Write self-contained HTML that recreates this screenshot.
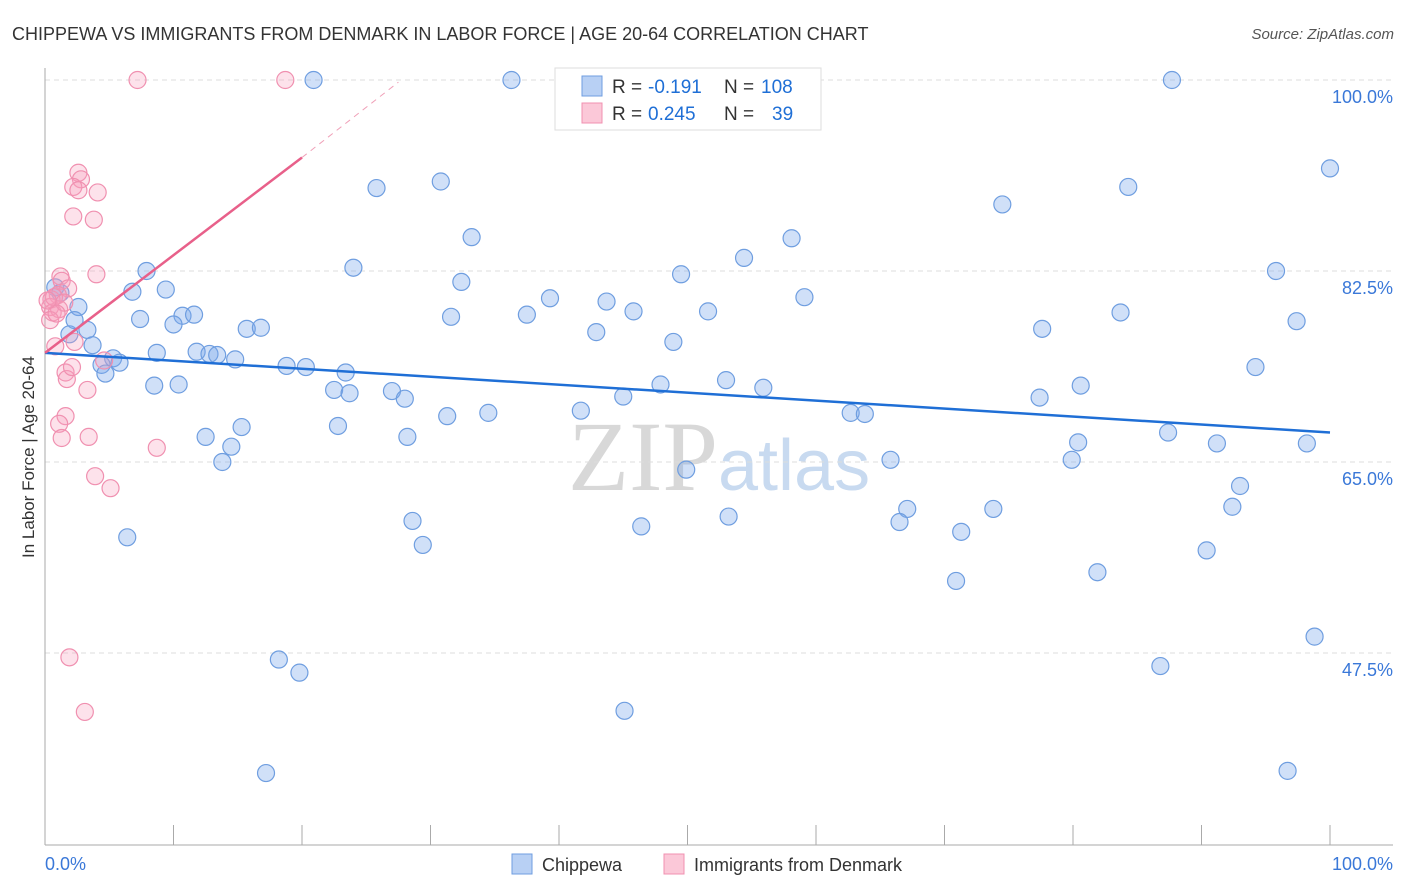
<!DOCTYPE html>
<html><head><meta charset="utf-8">
<style>
body{margin:0;background:#fff;font-family:"Liberation Sans",sans-serif;}
svg{display:block}
</style></head>
<body>
<svg id="chart" width="1406" height="892">
<text x="12" y="40" font-size="18" fill="#333">CHIPPEWA VS IMMIGRANTS FROM DENMARK IN LABOR FORCE | AGE 20-64 CORRELATION CHART</text>
<text x="1394" y="39" font-size="15" fill="#555" font-style="italic" text-anchor="end">Source: ZipAtlas.com</text>
<text x="718" y="490" font-size="100" fill="#d8d8d8" text-anchor="end" font-family="Liberation Serif">ZIP</text>
<text x="718" y="490" font-size="72" fill="#c8daf0">atlas</text>
<g id="grid"></g>
<g id="axes"></g>
<g id="pts"></g>
<g id="trend"></g>
<text transform="translate(34,457) rotate(-90)" font-size="17" fill="#333" text-anchor="middle">In Labor Force | Age 20-64</text>
<g>
<rect x="555" y="68" width="266" height="62" fill="#fff" stroke="#ddd"/>
<rect x="582" y="76" width="20" height="20" fill="#b8d0f4" stroke="#6f9ee0"/>
<rect x="582" y="103" width="20" height="20" fill="#fbc8d8" stroke="#f090b0"/>
<text x="612" y="93" font-size="19" fill="#333">R =</text>
<text x="648" y="93" font-size="19" fill="#1f6fd6">-0.191</text>
<text x="724" y="93" font-size="19" fill="#333">N =</text>
<text x="761" y="93" font-size="19" fill="#1f6fd6">108</text>
<text x="612" y="120" font-size="19" fill="#333">R =</text>
<text x="648" y="120" font-size="19" fill="#1f6fd6">0.245</text>
<text x="724" y="120" font-size="19" fill="#333">N =</text>
<text x="772" y="120" font-size="19" fill="#1f6fd6">39</text>
</g>
<g>
<rect x="512" y="854" width="20" height="20" fill="#b8d0f4" stroke="#6f9ee0"/>
<text x="542" y="871" font-size="18" fill="#333">Chippewa</text>
<rect x="664" y="854" width="20" height="20" fill="#fbc8d8" stroke="#f090b0"/>
<text x="694" y="871" font-size="18" fill="#333">Immigrants from Denmark</text>
</g>
</svg>
<script>
const blueX=[20.9,36.3,87.7,100,25.8,30.8,84.3,74.5,33.2,58.1,24.0,54.4,7.9,32.4,49.5,95.8,6.8,9.4,39.3,43.7,59.1,0.8,1.2,2.6,7.4,10.7,11.6,10.0,31.6,37.5,45.8,51.6,83.7,97.4,15.7,16.8,42.9,77.6,1.9,3.3,2.3,3.7,48.9,8.7,11.8,12.8,13.4,14.8,5.3,5.8,4.4,4.7,18.8,20.3,23.4,94.2,8.5,10.4,22.5,23.7,27.0,28.0,47.9,53.0,55.9,80.6,45.0,77.4,31.3,34.5,41.7,62.7,63.8,22.8,15.3,12.5,14.5,28.2,87.4,80.4,91.2,98.2,13.8,65.8,79.9,49.9,93.0,67.1,73.8,92.4,28.6,53.2,46.4,66.5,71.3,6.4,29.4,90.4,81.9,70.9,98.8,18.2,19.8,86.8,45.1,17.2,96.7];
const blueY=[100,100,100,91.9,90.1,90.7,90.2,88.6,85.6,85.5,82.8,83.7,82.5,81.5,82.2,82.5,80.6,80.8,80.0,79.7,80.1,81.0,80.5,79.2,78.1,78.4,78.5,77.6,78.3,78.5,78.8,78.8,78.7,77.9,77.2,77.3,76.9,77.2,76.7,77.1,78.0,75.7,76.0,75.0,75.1,74.9,74.8,74.4,74.5,74.1,73.9,73.1,73.8,73.7,73.2,73.7,72.0,72.1,71.6,71.3,71.5,70.8,72.1,72.5,71.8,72.0,71.0,70.9,69.2,69.5,69.7,69.5,69.4,68.3,68.2,67.3,66.4,67.3,67.7,66.8,66.7,66.7,65.0,65.2,65.2,64.3,62.8,60.7,60.7,60.9,59.6,60.0,59.1,59.5,58.6,58.1,57.4,56.9,54.9,54.1,49.0,46.9,45.7,46.3,42.2,36.5,36.7];
const pinkX=[7.2,18.7,2.6,2.8,2.2,2.6,4.1,2.2,3.8,1.2,1.3,4.0,1.8,1.0,0.5,0.4,0.6,1.1,0.4,0.8,2.3,4.6,1.6,1.7,2.1,3.3,1.6,1.1,1.3,3.4,8.7,3.9,5.1,1.9,3.1,0.7,1.5,0.9,0.2];
const pinkY=[100,100,91.5,90.9,90.2,89.9,89.7,87.5,87.2,82.0,81.6,82.2,80.9,80.3,79.9,79.2,78.7,79.0,78.0,75.6,76.0,74.3,73.2,72.6,73.7,71.6,69.2,68.5,67.2,67.3,66.3,63.7,62.6,47.1,42.1,80.1,79.6,78.6,79.8];
const blueTrend=[0,75.0,100,67.7];
const pinkTrend=[0,75.0,20,92.9,27.5,99.8];
const yTicks=[100,82.5,65,47.5];
const xTicks=[0,10,20,30,40,50,60,70,80,90,100];
const NS='http://www.w3.org/2000/svg';
const sx=v=>45+v*12.85;
const sy=v=>80+(100-v)*10.914;
function mk(tag,attrs,parent){const e=document.createElementNS(NS,tag);for(const k in attrs)e.setAttribute(k,attrs[k]);parent.appendChild(e);return e;}
const grid=document.getElementById('grid'),axes=document.getElementById('axes'),pts=document.getElementById('pts'),trend=document.getElementById('trend');
yTicks.forEach(t=>{
 const l=mk('line',{x1:45,x2:1393,y1:sy(t),y2:sy(t),stroke:'#ddd','stroke-dasharray':'5,4'},grid);
 
 
 const tx=mk('text',{x:1393,y:sy(t)+23,'font-size':18,fill:'#3a78d8','text-anchor':'end'},axes);
 tx.textContent=t.toFixed(1)+'%';
 
 
});
const al=mk('line',{x1:45,x2:45,y1:68,y2:845,stroke:'#aaa'},axes);


const bl=mk('line',{x1:45,x2:1393,y1:845,y2:845,stroke:'#aaa'},axes);


xTicks.forEach(t=>{
 const l=mk('line',{x1:sx(t),x2:sx(t),y1:825,y2:845,stroke:'#aaa'},axes);
 
 
});
const xl0=mk('text',{x:45,y:870,'font-size':18,fill:'#3a78d8'},axes);xl0.textContent='0.0%';


const xl1=mk('text',{x:1393,y:870,'font-size':18,fill:'#3a78d8','text-anchor':'end'},axes);xl1.textContent='100.0%';


blueX.forEach((x,i)=>{
 const c=mk('circle',{cx:sx(x),cy:sy(blueY[i]),r:8.5,fill:'rgba(120,165,235,0.35)',stroke:'#6f9ee0','stroke-width':1.2},pts);
 
 
});
pinkX.forEach((x,i)=>{
 const c=mk('circle',{cx:sx(x),cy:sy(pinkY[i]),r:8.5,fill:'rgba(250,160,190,0.3)',stroke:'#f090b0','stroke-width':1.2},pts);
 
 
});
const bt=mk('line',{x1:sx(blueTrend[0]),y1:sy(blueTrend[1]),x2:sx(blueTrend[2]),y2:sy(blueTrend[3]),stroke:'#1f6fd6','stroke-width':2.5},trend);


const pt=mk('line',{x1:sx(pinkTrend[0]),y1:sy(pinkTrend[1]),x2:sx(pinkTrend[2]),y2:sy(pinkTrend[3]),stroke:'#e8608a','stroke-width':2.5},trend);


const pd=mk('line',{x1:sx(pinkTrend[2]),y1:sy(pinkTrend[3]),x2:sx(pinkTrend[4]),y2:sy(pinkTrend[5]),stroke:'#f0a0b8','stroke-width':1,'stroke-dasharray':'6,5'},trend);


</script>
</body></html>
